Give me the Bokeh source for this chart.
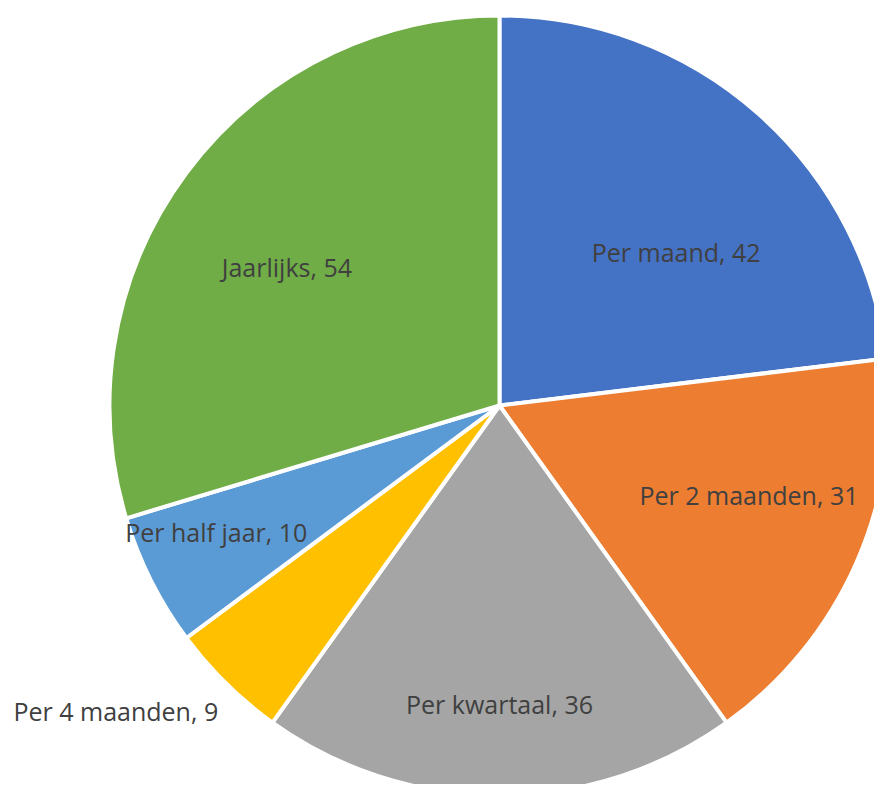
import math
from bokeh.plotting import figure
from bokeh.models import ColumnDataSource, Range1d
from bokeh.core.properties import value
from bokeh.embed import file_html
from bokeh.resources import INLINE

# ---- data ----
categories = ["Per maand", "Per 2 maanden", "Per kwartaal", "Per 4 maanden", "Per half jaar", "Jaarlijks"]
counts = [42, 31, 36, 9, 10, 54]
colors = ["#4472C4", "#ED7D31", "#A5A5A5", "#FFC000", "#5B9BD5", "#70AD47"]

# ---- layout (label placement, as Excel "best fit") ----
label_radius_frac = [0.60, 0.68, 0.765, 1.257, 0.795, 0.65]
label_angle_nudge_deg = [7.5, -3.9, 0.0, 7.0, 2.7, -3.6]

W, H = 874, 784
cx, cy, R = 499, 379, 390

total = float(sum(counts))
starts, ends, lx, ly, texts = [], [], [], [], []
cum = 0.0
for i, v in enumerate(counts):
    a0 = cum / total * 2 * math.pi
    a1 = (cum + v) / total * 2 * math.pi
    starts.append(math.pi / 2 - a0)
    ends.append(math.pi / 2 - a1)
    mid = (a0 + a1) / 2 + math.radians(label_angle_nudge_deg[i])
    d = R * label_radius_frac[i]
    lx.append(cx + d * math.sin(mid))
    ly.append(cy + d * math.cos(mid))
    texts.append(f"{categories[i]}, {v}")
    cum += v

src = ColumnDataSource(dict(start=starts, end=ends, color=colors,
                            x=[cx] * len(counts), y=[cy] * len(counts)))
lsrc = ColumnDataSource(dict(x=lx, y=ly, text=texts))

p = figure(width=W, height=H, output_backend="svg", toolbar_location=None,
           x_range=Range1d(0, W), y_range=Range1d(0, H),
           x_axis_type=None, y_axis_type=None, min_border=0)
p.grid.visible = False
p.outline_line_color = None
p.background_fill_color = "white"
p.border_fill_color = "white"

p.wedge(x="x", y="y", radius=R, start_angle="start", end_angle="end",
        direction="clock", fill_color="color", line_color="white",
        line_width=4, source=src)

p.text(x="x", y="y", text="text", source=lsrc, text_align="center",
       text_baseline="middle", text_font=value("Open Sans"),
       text_font_size="25px", text_color="#404040")

open("out.html", "w").write(file_html(p, INLINE))
